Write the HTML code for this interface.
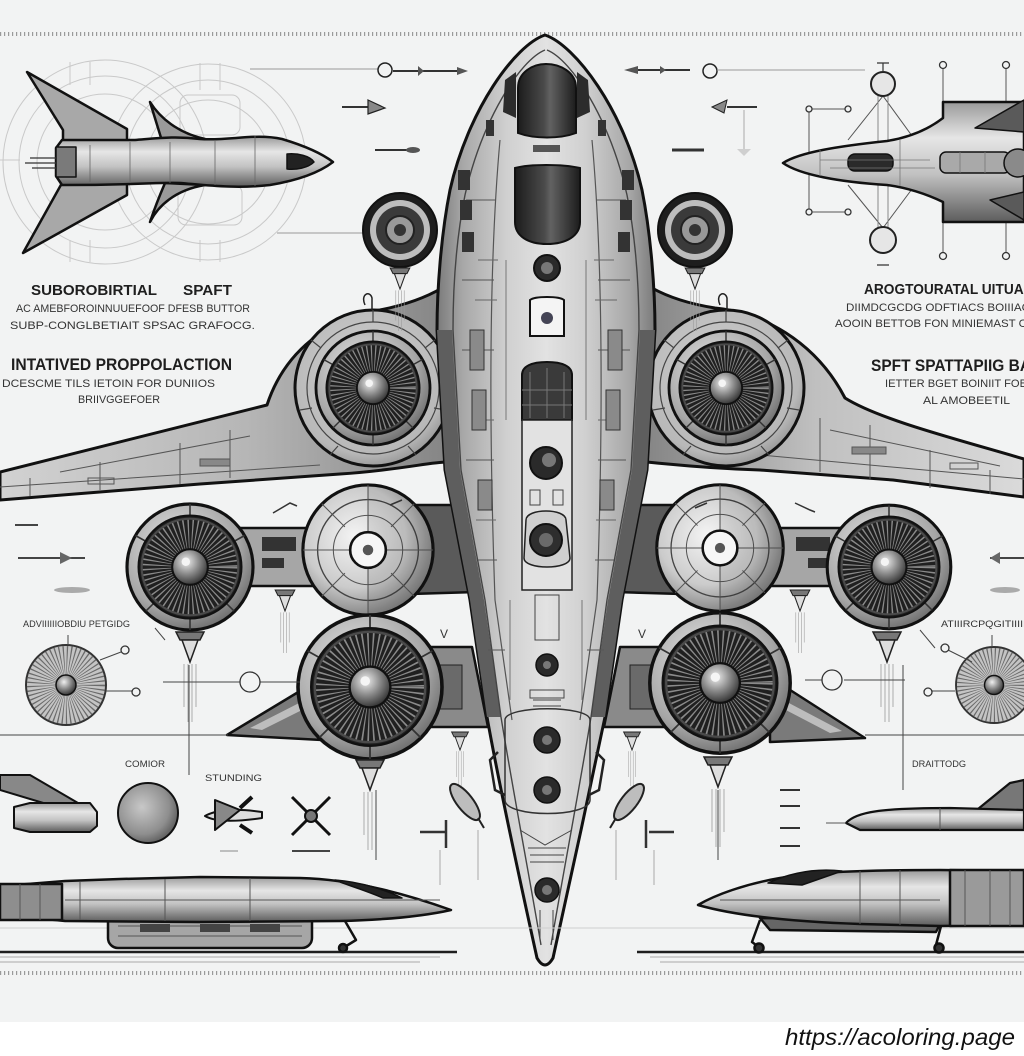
<!DOCTYPE html>
<html><head><meta charset="utf-8">
<style>
html,body{margin:0;padding:0;background:#ffffff;}
svg{display:block}
</style></head><body>
<svg width="1024" height="1056" viewBox="0 0 1024 1056" xmlns="http://www.w3.org/2000/svg" xmlns:xlink="http://www.w3.org/1999/xlink" font-family="'Liberation Sans', sans-serif">
<defs>
 <linearGradient id="gHull" x1="0" y1="0" x2="1" y2="0">
  <stop offset="0" stop-color="#7a7a7a"/>
  <stop offset="0.12" stop-color="#a8a8a8"/>
  <stop offset="0.32" stop-color="#d0d0d0"/>
  <stop offset="0.5" stop-color="#e2e2e2"/>
  <stop offset="0.68" stop-color="#d0d0d0"/>
  <stop offset="0.88" stop-color="#a8a8a8"/>
  <stop offset="1" stop-color="#7a7a7a"/>
 </linearGradient>
 <linearGradient id="gWingL" x1="0" y1="0" x2="1" y2="0">
  <stop offset="0" stop-color="#d2d2d2"/>
  <stop offset="0.55" stop-color="#b6b6b6"/>
  <stop offset="1" stop-color="#858585"/>
 </linearGradient>
 <linearGradient id="gWingR" x1="1" y1="0" x2="0" y2="0">
  <stop offset="0" stop-color="#dadada"/>
  <stop offset="0.55" stop-color="#c0c0c0"/>
  <stop offset="1" stop-color="#858585"/>
 </linearGradient>
 <radialGradient id="gRing" cx="0.4" cy="0.35" r="0.7">
  <stop offset="0" stop-color="#e6e6e6"/>
  <stop offset="0.7" stop-color="#a6a6a6"/>
  <stop offset="1" stop-color="#686868"/>
 </radialGradient>
 <radialGradient id="gHouse" cx="0.45" cy="0.4" r="0.65">
  <stop offset="0" stop-color="#cfcfcf"/>
  <stop offset="0.8" stop-color="#b8b8b8"/>
  <stop offset="1" stop-color="#8c8c8c"/>
 </radialGradient>
 <radialGradient id="gDome" cx="0.4" cy="0.4" r="0.65">
  <stop offset="0" stop-color="#f4f4f4"/>
  <stop offset="0.6" stop-color="#cbcbcb"/>
  <stop offset="1" stop-color="#7a7a7a"/>
 </radialGradient>
 <radialGradient id="gHub" cx="0.4" cy="0.35" r="0.7">
  <stop offset="0" stop-color="#f0f0f0"/>
  <stop offset="0.5" stop-color="#8a8a8a"/>
  <stop offset="1" stop-color="#2a2a2a"/>
 </radialGradient>
 <radialGradient id="gPlanet" cx="0.4" cy="0.4" r="0.65">
  <stop offset="0" stop-color="#c8c8c8"/>
  <stop offset="0.7" stop-color="#8e8e8e"/>
  <stop offset="1" stop-color="#5a5a5a"/>
 </radialGradient>
 <linearGradient id="gGlass" x1="0" y1="0" x2="1" y2="0">
  <stop offset="0" stop-color="#1c1c1c"/>
  <stop offset="0.45" stop-color="#4a4a4a"/>
  <stop offset="0.55" stop-color="#626262"/>
  <stop offset="1" stop-color="#1c1c1c"/>
 </linearGradient>
 <linearGradient id="gMetalV" x1="0" y1="0" x2="0" y2="1">
  <stop offset="0" stop-color="#9a9a9a"/>
  <stop offset="0.3" stop-color="#e6e6e6"/>
  <stop offset="0.6" stop-color="#c2c2c2"/>
  <stop offset="1" stop-color="#5c5c5c"/>
 </linearGradient>
 <g id="fan">
  <circle r="60" fill="url(#gRing)" stroke="#111" stroke-width="3"/>
  <path d="M0,-60 V-50 M52,-30 L43,-25 M-52,-30 L-43,-25 M42,42 L35,35 M-42,42 L-35,35 M0,60 V50" stroke="#333" stroke-width="1.5"/>
  <circle r="49" fill="#202020" stroke="#111" stroke-width="2"/>
  <circle r="30" fill="none" stroke="#8a8a8a" stroke-width="32" stroke-dasharray="1 2.4"/>
  <circle r="46" fill="none" stroke="#4a4a4a" stroke-width="2"/>
  <circle r="17" fill="url(#gHub)" stroke="#111" stroke-width="2"/>
  <circle cx="-4" cy="-5" r="4" fill="#f5f5f5"/>
 </g>
 <g id="dome">
  <circle r="62" fill="url(#gDome)" stroke="#111" stroke-width="3"/>
  <circle r="48" fill="none" stroke="#444" stroke-width="1.3"/>
  <circle r="33" fill="none" stroke="#555" stroke-width="1"/>
  <path d="M-62,0 H62 M0,-62 V62 M-44,-44 L-22,-22 M44,-44 L22,-22 M-44,44 L-22,22 M44,44 L22,22" stroke="#555" stroke-width="1"/>
  <path d="M0,-62 A62,62 0 0 1 0,62 Z" fill="#000" opacity="0.08"/>
  <circle r="17" fill="#f6f6f6" stroke="#111" stroke-width="2.5"/>
  <circle r="5" fill="#555"/>
 </g>
 <g id="noz">
  <path d="M-14,0 H14 L10,8 H-10 Z" fill="#777" stroke="#222" stroke-width="1.5"/>
  <path d="M-8,8 L8,8 L0,30 Z" fill="#dddddd" stroke="#222" stroke-width="1.5"/>
  <path d="M-6,32 V75 M-2,32 V90 M2,32 V90 M6,32 V75" stroke="#9a9a9a" stroke-width="0.8"/>
 </g>
 <g id="sfan">
  <circle r="40" fill="#c4c4c4" stroke="#333" stroke-width="2"/>
  <circle r="22" fill="none" stroke="#6a6a6a" stroke-width="34" stroke-dasharray="0.8 1.8"/>
  <circle r="10" fill="url(#gHub)" stroke="#111" stroke-width="1.5"/>
 </g>
</defs>

<!-- background -->
<rect x="0" y="0" width="1024" height="1024" fill="#f2f3f3"/>
<rect x="0" y="1022" width="1024" height="34" fill="#ffffff"/>

<!-- dotted rules -->
<line x1="0" y1="34" x2="1024" y2="34" stroke="#9a9a9a" stroke-width="4" stroke-dasharray="1.2 2.8"/>
<line x1="0" y1="973" x2="1024" y2="973" stroke="#9a9a9a" stroke-width="4" stroke-dasharray="1.2 2.8"/>

<!-- blueprint circles top-left -->
<g fill="none" stroke="#c9c9c9" stroke-width="1">
 <circle cx="105" cy="162" r="102"/>
 <circle cx="105" cy="162" r="86"/>
 <circle cx="105" cy="162" r="68"/>
 <circle cx="208" cy="162" r="98"/>
 <circle cx="208" cy="162" r="82"/>
 <circle cx="208" cy="162" r="62"/>
 <rect x="180" y="95" width="60" height="40" rx="8"/>
 <rect x="178" y="185" width="64" height="40" rx="8"/>
 <path d="M70,62 V85 M90,62 V85 M200,63 V90 M220,63 V90 M200,240 V262 M220,240 V262 M70,240 V262 M90,240 V262"/>
 <line x1="0" y1="160" x2="20" y2="160"/>
</g>
<line x1="250" y1="69" x2="378" y2="69" stroke="#999" stroke-width="1"/>
<line x1="277" y1="233" x2="363" y2="233" stroke="#999" stroke-width="1"/>

<!-- top-left ship -->
<g stroke="#111" stroke-width="2.5" stroke-linejoin="round">
 <path d="M27,72 L127,129 L127,142 L63,142 L63,130 Z" fill="#a8a8a8"/>
 <path d="M23,253 L62,183 L127,183 L127,195 Z" fill="#a8a8a8"/>
 <path d="M150,102 C160,118 178,133 205,139 L162,141 C158,128 154,115 150,102 Z" fill="#9a9a9a"/>
 <path d="M150,222 C158,206 175,190 205,185 L165,183 C159,197 154,210 150,222 Z" fill="#9a9a9a"/>
 <path d="M56,148 L62,140 L135,140 C160,138 175,136 200,139 C230,141 255,133 282,139 C302,145 320,152 333,162 C320,172 300,180 270,185 C235,189 205,185 180,183 C160,182 140,185 62,185 L56,176 Z" fill="url(#gMetalV)"/>
 <rect x="56" y="147" width="20" height="30" fill="#7a7a7a" stroke-width="1.5"/>
 <path d="M287,154 C298,153 310,156 314,162 C308,168 296,170 287,169 Z" fill="#222" stroke-width="1.5"/>
</g>
<path d="M30,158 H56 M25,163 H56 M32,168 H56" stroke="#333" stroke-width="1.2"/>
<path d="M90,145 V182 M130,142 V183 M170,142 V183 M215,140 V185 M255,136 V186" stroke="#666" stroke-width="0.8" fill="none"/>

<!-- top arrows -->
<circle cx="385" cy="70" r="7" fill="#f2f3f3" stroke="#222" stroke-width="1.5"/>
<path d="M393,71 H462" stroke="#333" stroke-width="2"/>
<path d="M457,67 L468,71 L457,75 Z M418,66 L424,71 L418,76 Z" fill="#555"/>
<path d="M342,107 H370" stroke="#333" stroke-width="2"/>
<path d="M368,100 L385,108 L368,114 Z" fill="#888" stroke="#222" stroke-width="1.2"/>
<path d="M375,150 H418" stroke="#333" stroke-width="2"/>
<ellipse cx="413" cy="150" rx="7" ry="3" fill="#555"/>
<path d="M632,70 H690" stroke="#333" stroke-width="2"/>
<path d="M624,70 L638,66 L638,74 Z M660,66 L666,70 L660,74 Z" fill="#555"/>
<circle cx="710" cy="71" r="7" fill="#f2f3f3" stroke="#222" stroke-width="1.5"/>
<line x1="717" y1="70" x2="865" y2="70" stroke="#999" stroke-width="1"/>
<path d="M712,107 L727,100 L724,113 Z" fill="#888" stroke="#222" stroke-width="1"/>
<path d="M727,107 H757" stroke="#333" stroke-width="2"/>
<line x1="744" y1="110" x2="744" y2="150" stroke="#aaa" stroke-width="1"/>
<path d="M737,149 L751,149 L744,156 Z" fill="#cfcfcf"/>
<path d="M672,150 H704" stroke="#333" stroke-width="3"/>

<!-- top-right ship + annotations -->
<g fill="none" stroke="#555" stroke-width="1">
 <path d="M809,109 V212 M809,109 H848 M809,212 H848"/>
 <path d="M943,66 V102 M1006,66 V102 M943,222 V255 M1006,222 V255"/>
 <path d="M883,96 L848,140 M883,96 L915,140 M883,228 L848,185 M883,228 L915,185"/>
 <path d="M878,96 V228 M888,96 V228" stroke="#888"/>
</g>
<g fill="#f2f3f3" stroke="#333" stroke-width="1.3">
 <circle cx="809" cy="109" r="3"/><circle cx="848" cy="109" r="3"/>
 <circle cx="809" cy="212" r="3"/><circle cx="848" cy="212" r="3"/>
 <circle cx="943" cy="65" r="3.5"/><circle cx="1006" cy="65" r="3.5"/>
 <circle cx="943" cy="256" r="3.5"/><circle cx="1006" cy="256" r="3.5"/>
</g>
<circle cx="883" cy="84" r="12" fill="#e6e6e6" stroke="#222" stroke-width="2"/>
<circle cx="883" cy="240" r="13" fill="#e6e6e6" stroke="#222" stroke-width="2"/>
<path d="M877,63 H889 M883,63 V72 M877,265 H889" stroke="#333" stroke-width="1.2"/>
<g stroke="#111" stroke-width="2.5" stroke-linejoin="round">
 <path d="M783,163 C800,152 840,146 887,141 C912,137 930,128 943,118 L943,102 L1024,102 L1024,222 L943,222 L943,202 C922,192 902,187 887,185 C840,182 800,175 783,163 Z" fill="url(#gMetalV)"/>
 <path d="M975,128 L1024,100 L1024,132 Z" fill="#5a5a5a" stroke-width="1.5"/>
 <path d="M990,200 L1024,220 L1024,192 Z" fill="#5a5a5a" stroke-width="1.5"/>
 <rect x="848" y="154" width="45" height="17" rx="7" fill="#2a2a2a" stroke-width="1.5"/>
 <rect x="940" y="152" width="70" height="21" rx="6" fill="#a9a9a9" stroke-width="1.5"/>
 <circle cx="1018" cy="163" r="14" fill="#8a8a8a" stroke-width="1.5"/>
</g>
<path d="M820,160 H930 M830,168 H935 M960,152 V173 M985,152 V173 M900,140 V186 M820,150 V176" stroke="#777" stroke-width="0.8" fill="none"/>

<!-- texts -->
<g fill="#1e1e1e" font-weight="bold">
 <text x="31" y="295" font-size="15" textLength="126" lengthAdjust="spacingAndGlyphs">SUBOROBIRTIAL</text>
 <text x="183" y="295" font-size="15" textLength="49" lengthAdjust="spacingAndGlyphs">SPAFT</text>
 <text x="11" y="370" font-size="17" textLength="221" lengthAdjust="spacingAndGlyphs">INTATIVED PROPPOLACTION</text>
 <text x="864" y="294" font-size="15" textLength="168" lengthAdjust="spacingAndGlyphs">AROGTOURATAL UITUAL</text>
 <text x="871" y="371" font-size="17" textLength="160" lengthAdjust="spacingAndGlyphs">SPFT SPATTAPIIG BA</text>
</g>
<g fill="#333" font-size="11">
 <text x="16" y="312" textLength="234" lengthAdjust="spacingAndGlyphs">AC AMEBFOROINNUUEFOOF DFESB BUTTOR</text>
 <text x="10" y="329" textLength="245" lengthAdjust="spacingAndGlyphs">SUBP-CONGLBETIAIT SPSAC GRAFOCG.</text>
 <text x="2" y="387" textLength="213" lengthAdjust="spacingAndGlyphs">DCESCME TILS IETOIN FOR DUNIIOS</text>
 <text x="78" y="403" textLength="82" lengthAdjust="spacingAndGlyphs">BRIIVGGEFOER</text>
 <text x="846" y="311" textLength="184" lengthAdjust="spacingAndGlyphs">DIIMDCGCDG ODFTIACS BOIIIAC</text>
 <text x="835" y="327" textLength="192" lengthAdjust="spacingAndGlyphs">AOOIN BETTOB FON MINIEMAST C</text>
 <text x="885" y="387" textLength="142" lengthAdjust="spacingAndGlyphs">IETTER BGET BOINIIT FOB</text>
 <text x="923" y="404" textLength="87" lengthAdjust="spacingAndGlyphs">AL AMOBEETIL</text>
</g>
<g fill="#333" font-size="9">
 <text x="23" y="627" textLength="107" lengthAdjust="spacingAndGlyphs">ADVIIIIIIOBDIU PETGIDG</text>
 <text x="941" y="627" textLength="85" lengthAdjust="spacingAndGlyphs">ATIIIRCPQGITIIIII</text>
 <text x="125" y="767" textLength="40" lengthAdjust="spacingAndGlyphs">COMIOR</text>
 <text x="205" y="781" textLength="57" lengthAdjust="spacingAndGlyphs">STUNDING</text>
 <text x="912" y="767" textLength="54" lengthAdjust="spacingAndGlyphs">DRAITTODG</text>
</g>

<!-- wings -->
<g stroke="#111" stroke-width="3" stroke-linejoin="round">
 <path d="M0,472 L267,405 C285,350 330,318 380,310 C405,305 425,298 442,288 L445,330 L447,462 C430,462 400,470 340,474 L200,484 L0,500 Z" fill="url(#gWingL)"/>
 <path d="M1024,459 C960,440 880,420 845,398 C815,340 760,312 715,308 C690,304 670,298 652,288 L648,330 L646,462 C670,464 700,468 760,470 L893,480 L1024,497 Z" fill="url(#gWingR)"/>
</g>
<g stroke="#555" stroke-width="1" fill="none">
 <path d="M0,487 L320,465 M30,478 V496 M100,462 V490 M180,443 V484 M230,430 V478 M60,472 L250,436"/>
 <path d="M1024,479 L760,455 M990,470 V494 M930,450 V488 M870,425 V480 M820,418 V472 M1000,466 L830,430"/>
 <rect x="88" y="478" width="26" height="6"/>
 <rect x="200" y="459" width="30" height="7" fill="#888"/>
 <rect x="852" y="447" width="34" height="7" fill="#888"/>
 <rect x="950" y="463" width="28" height="6"/>
</g>

<!-- big engine housings -->
<circle cx="373" cy="388" r="78" fill="url(#gHouse)" stroke="#111" stroke-width="3"/>
<circle cx="726" cy="388" r="78" fill="url(#gHouse)" stroke="#111" stroke-width="3"/>
<g stroke="#444" stroke-width="1.2" fill="none">
 <circle cx="373" cy="388" r="66"/>
 <circle cx="726" cy="388" r="66"/>
 <path d="M373,310 V322 M311,340 L321,348 M435,340 L425,348 M300,410 L312,408 M446,410 L434,408 M330,455 L338,446 M416,455 L408,446"/>
 <path d="M726,310 V322 M664,340 L674,348 M788,340 L778,348 M653,410 L665,408 M799,410 L787,408 M683,455 L691,446 M769,455 L761,446"/>
</g>

<!-- bars -->
<g stroke="#111" stroke-width="2.5" stroke-linejoin="round">
 <rect x="235" y="528" width="90" height="58" fill="#a6a6a6"/>
 <rect x="767" y="528" width="90" height="58" fill="#a6a6a6"/>
 <path d="M410,505 L462,505 L476,592 L410,594 Z" fill="#5a5a5a"/>
 <path d="M682,505 L630,505 L616,592 L682,594 Z" fill="#5a5a5a"/>
 <path d="M420,647 L472,647 L488,727 L420,727 Z" fill="#8a8a8a"/>
 <path d="M672,647 L620,647 L604,727 L672,727 Z" fill="#8a8a8a"/>
 <path d="M227,735 L305,688 L322,700 L322,740 Z" fill="#7a7a7a"/>
 <path d="M865,738 L787,688 L770,700 L770,742 Z" fill="#7a7a7a"/>
</g>
<g fill="#333">
 <rect x="262" y="537" width="34" height="14"/>
 <rect x="262" y="558" width="22" height="10"/>
 <rect x="796" y="537" width="34" height="14"/>
 <rect x="808" y="558" width="22" height="10"/>
 <rect x="432" y="665" width="30" height="44" fill="#6a6a6a" stroke="#222" stroke-width="1"/>
 <rect x="630" y="665" width="30" height="44" fill="#6a6a6a" stroke="#222" stroke-width="1"/>
 <path d="M250,728 L305,700 L310,706 L262,730 Z" fill="#bdbdbd"/>
 <path d="M842,731 L787,702 L782,708 L830,733 Z" fill="#bdbdbd"/>
</g>

<!-- hull -->
<path d="M545,35 C515,45 468,110 450,190 C441,235 437,290 437,330 L445,470 L470,600 L487,717 C500,790 522,890 537,958 Q545,972 553,958 C568,890 590,790 605,717 L622,600 L647,470 L655,330 C655,290 651,235 642,190 C624,110 575,45 545,35 Z" fill="url(#gHull)" stroke="#111" stroke-width="3" stroke-linejoin="round"/>
<path d="M437,330 L445,470 L470,600 L487,717 L501,717 L484,600 L460,470 L452,330 Z" fill="#5e5e5e"/>
<path d="M655,330 L647,470 L622,600 L605,717 L591,717 L608,600 L632,470 L640,330 Z" fill="#5e5e5e"/>
<g fill="none" stroke="#444" stroke-width="1.4">
 <path d="M545,50 C520,60 482,120 465,195 C456,240 453,290 453,330 L461,470 L485,600 L501,717 C512,785 530,880 541,945"/>
 <path d="M547,50 C572,60 610,120 627,195 C636,240 639,290 639,330 L631,470 L607,600 L591,717 C580,785 562,880 551,945"/>
 <path d="M500,140 C490,250 488,400 495,600 L512,720 M592,140 C602,250 604,400 597,600 L580,720" stroke="#555" stroke-width="1.2"/>
 <path d="M478,260 H498 M475,300 H497 M474,420 H494 M476,520 H496 M594,260 H614 M595,300 H617 M598,420 H618 M596,520 H616" stroke="#666" stroke-width="1"/>
 <path d="M466,200 H496 M462,280 H494 M462,350 H494 M466,460 H494 M478,560 H497 M488,650 H505 M596,200 H626 M598,280 H630 M598,350 H630 M598,460 H626 M595,560 H614 M587,650 H604" stroke="#555" stroke-width="1"/>
 <path d="M506,260 V420 M586,260 V420 M510,600 V700 M582,600 V700" stroke="#777" stroke-width="1"/>
</g>
<g fill="#8a8a8a" stroke="#333" stroke-width="1">
 <rect x="470" y="330" width="14" height="40"/><rect x="472" y="390" width="14" height="40"/><rect x="478" y="480" width="14" height="30"/>
 <rect x="608" y="330" width="14" height="40"/><rect x="606" y="390" width="14" height="40"/><rect x="600" y="480" width="14" height="30"/>
</g>
<!-- cockpit windows -->
<path d="M518,133 L518,88 C518,72 533,64 546,64 C560,64 576,72 576,88 L576,133 C560,139 534,139 518,133 Z" fill="url(#gGlass)" stroke="#111" stroke-width="2"/>
<path d="M505,80 L516,72 L516,118 L503,112 Z M588,80 L577,72 L577,118 L590,112 Z" fill="#2c2c2c"/>
<path d="M533,145 H560 V152 H533 Z" fill="#555"/>
<path d="M515,168 C530,164 562,164 580,168 L580,222 C580,236 566,244 547,244 C528,244 515,236 515,222 Z" fill="url(#gGlass)" stroke="#111" stroke-width="2"/>
<circle cx="547" cy="268" r="13" fill="#2a2a2a" stroke="#111" stroke-width="2"/>
<circle cx="547" cy="268" r="6" fill="#777"/>
<path d="M530,300 C535,296 559,296 564,300 L564,336 L530,336 Z" fill="#f4f4f4" stroke="#111" stroke-width="2"/>
<circle cx="547" cy="318" r="6" fill="#445"/>
<g fill="#333">
 <rect x="458" y="170" width="12" height="20"/><rect x="460" y="200" width="12" height="20"/><rect x="462" y="232" width="12" height="20"/>
 <rect x="622" y="170" width="12" height="20"/><rect x="620" y="200" width="12" height="20"/><rect x="618" y="232" width="12" height="20"/>
 <rect x="486" y="120" width="8" height="16"/><rect x="598" y="120" width="8" height="16"/>
</g>
<!-- spine -->
<path d="M522,420 L522,375 C522,366 532,362 547,362 C562,362 572,366 572,375 L572,420 Z" fill="#3a3a3a" stroke="#111" stroke-width="2"/>
<path d="M530,372 V418 M547,368 V418 M564,372 V418 M522,390 H572 M522,405 H572" stroke="#777" stroke-width="1"/>
<rect x="522" y="420" width="50" height="170" fill="#e2e2e2" stroke="#222" stroke-width="1.5"/>
<circle cx="546" cy="463" r="16" fill="#2a2a2a" stroke="#111" stroke-width="2"/>
<circle cx="549" cy="460" r="7" fill="#777"/>
<path d="M526,520 C526,508 566,508 566,520 L570,558 C570,570 524,570 524,558 Z" fill="#cfcfcf" stroke="#222" stroke-width="1.5"/>
<circle cx="546" cy="540" r="16" fill="#2e2e2e" stroke="#111" stroke-width="2"/>
<circle cx="546" cy="540" r="7" fill="#6a6a6a"/>
<path d="M530,490 H540 V505 H530 Z M553,490 H563 V505 H553 Z M535,595 H559 V640 H535 Z" fill="none" stroke="#444" stroke-width="1"/>
<path d="M505,720 C505,705 590,705 590,720 L590,800 C590,818 505,818 505,800 Z" fill="none" stroke="#333" stroke-width="1.5"/>
<g fill="#2a2a2a" stroke="#111" stroke-width="1.5">
 <circle cx="547" cy="665" r="11"/>
 <circle cx="547" cy="740" r="13"/>
 <circle cx="547" cy="790" r="13"/>
 <circle cx="547" cy="890" r="12"/>
</g>
<g fill="#777"><circle cx="547" cy="665" r="4"/><circle cx="547" cy="740" r="5"/><circle cx="547" cy="790" r="5"/><circle cx="547" cy="890" r="5"/></g>
<path d="M530,690 H564 V698 H530 Z M533,700 H561 M533,706 H561 M528,848 H566 M530,855 H564 M530,862 H564 M540,910 V940 M553,910 V940 M520,830 L545,845 L572,830" stroke="#444" stroke-width="1" fill="none"/>
<path d="M498,752 L490,760 L495,790 L505,795 M596,752 L604,760 L599,790 L589,795" stroke="#222" stroke-width="2.5" fill="none"/>

<!-- engines -->
<use xlink:href="#fan" transform="translate(373,388) scale(0.95)"/>
<use xlink:href="#fan" transform="translate(726,388) scale(0.95)"/>
<use xlink:href="#fan" transform="translate(190,567) scale(1.05)"/>
<use xlink:href="#dome" transform="translate(368,550) scale(1.05)"/>
<use xlink:href="#dome" transform="translate(720,548) scale(1.02)"/>
<use xlink:href="#fan" transform="translate(889,567) scale(1.03)"/>
<use xlink:href="#fan" transform="translate(370,687) scale(1.2)"/>
<use xlink:href="#fan" transform="translate(720,683) scale(1.17)"/>
<g>
 <circle cx="400" cy="230" r="37" fill="#1e1e1e" stroke="#111" stroke-width="2"/>
 <circle cx="400" cy="230" r="30" fill="#bdbdbd"/>
 <circle cx="400" cy="230" r="24" fill="#3a3a3a"/>
 <circle cx="400" cy="230" r="14" fill="#999" stroke="#222" stroke-width="2"/>
 <circle cx="400" cy="230" r="6" fill="#333"/>
 <circle cx="695" cy="230" r="37" fill="#1e1e1e" stroke="#111" stroke-width="2"/>
 <circle cx="695" cy="230" r="30" fill="#bdbdbd"/>
 <circle cx="695" cy="230" r="24" fill="#3a3a3a"/>
 <circle cx="695" cy="230" r="14" fill="#999" stroke="#222" stroke-width="2"/>
 <circle cx="695" cy="230" r="6" fill="#333"/>
</g>
<!-- nozzles -->
<use xlink:href="#noz" transform="translate(400,268) scale(0.7)"/>
<use xlink:href="#noz" transform="translate(695,268) scale(0.7)"/>
<use xlink:href="#noz" transform="translate(190,632)"/>
<use xlink:href="#noz" transform="translate(887,632)"/>
<use xlink:href="#noz" transform="translate(370,760)"/>
<use xlink:href="#noz" transform="translate(718,757)"/>
<use xlink:href="#noz" transform="translate(285,590) scale(0.7)"/>
<use xlink:href="#noz" transform="translate(800,590) scale(0.7)"/>
<use xlink:href="#noz" transform="translate(460,732) scale(0.6)"/>
<use xlink:href="#noz" transform="translate(632,732) scale(0.6)"/>
<path d="M365,305 C360,294 370,290 372,298 L372,310 M720,305 C715,294 725,290 727,298 L727,310" stroke="#222" stroke-width="1.5" fill="none"/>
<path d="M390,505 L402,500 M695,508 L707,503" stroke="#333" stroke-width="1.5"/>

<!-- side fans + annotations -->
<use xlink:href="#sfan" transform="translate(66,685)"/>
<use xlink:href="#sfan" transform="translate(994,685) scale(0.95)"/>
<g stroke="#444" stroke-width="1" fill="none">
 <path d="M68,635 V645 M100,660 L121,652 M106,691 L132,691"/>
 <path d="M163,682 H240 M260,682 H300"/>
 <path d="M0,735 H228 M865,735 H1024"/>
 <path d="M189,665 V775 M376,790 V860"/>
 <path d="M844,680 H905 M805,680 H822 M948,650 L972,662 M932,691 H955 M992,635 V647"/>
 <path d="M903,665 V790 M718,790 V860"/>
 <path d="M155,628 L165,640 M920,630 L935,648"/>
</g>
<g fill="#f2f3f3" stroke="#333" stroke-width="1.3">
 <circle cx="125" cy="650" r="4"/><circle cx="136" cy="692" r="4"/>
 <circle cx="945" cy="648" r="4"/><circle cx="928" cy="692" r="4"/>
 <circle cx="250" cy="682" r="10"/><circle cx="832" cy="680" r="10"/>
</g>
<!-- left-side small arrows -->
<path d="M15,525 H38 M18,558 H85 M990,558 H1024" stroke="#444" stroke-width="2"/>
<path d="M60,552 L72,558 L60,564 Z M1000,552 L990,558 L1000,564 Z" fill="#666"/>
<ellipse cx="72" cy="590" rx="18" ry="3" fill="#aaa"/>
<ellipse cx="1005" cy="590" rx="15" ry="3" fill="#aaa"/>
<path d="M273,513 L290,503 L297,506" stroke="#333" stroke-width="1.5" fill="none"/>
<path d="M795,503 L810,510 L815,512" stroke="#333" stroke-width="1.5" fill="none"/>
<text x="440" y="638" font-size="12" fill="#333">V</text>
<text x="638" y="638" font-size="12" fill="#333">V</text>

<!-- missiles near hull bottom -->
<g stroke="#222" stroke-width="2">
 <ellipse cx="465" cy="802" rx="22" ry="8" transform="rotate(52 465 802)" fill="#bdbdbd"/>
 <ellipse cx="629" cy="802" rx="22" ry="8" transform="rotate(-52 629 802)" fill="#bdbdbd"/>
 <path d="M478,818 L484,828 M616,818 L610,828" />
</g>
<path d="M420,832 H445 M446,820 V848 M649,832 H674 M646,820 V848" stroke="#333" stroke-width="2.5"/>
<path d="M478,830 V880 M616,830 V880 M440,850 V885 M654,850 V885" stroke="#aaa" stroke-width="1"/>
<path d="M780,790 H800 M780,806 H800 M780,828 H800 M780,846 H800" stroke="#333" stroke-width="2"/>

<!-- bottom small items -->
<g stroke="#111" stroke-width="2" stroke-linejoin="round">
 <path d="M0,775 L30,775 L78,803 L50,805 L0,790 Z" fill="#888"/>
 <path d="M14,807 L30,803 L90,803 L97,812 L97,826 L90,832 L30,832 L14,828 Z" fill="url(#gMetalV)"/>
 <circle cx="148" cy="813" r="30" fill="url(#gPlanet)"/>
 <path d="M205,816 C215,810 235,808 262,812 L262,818 C235,822 215,822 205,816 Z" fill="#ddd"/>
 <path d="M215,800 L240,810 L215,830 Z" fill="#888"/>
 <path d="M240,808 L252,797 M240,825 L252,833" stroke-width="4"/>
 <path d="M292,797 L330,835 M330,797 L292,835" stroke-width="3"/>
 <circle cx="311" cy="816" r="6" fill="#777"/>
</g>
<path d="M292,851 H330" stroke="#444" stroke-width="2"/>
<path d="M220,851 H238" stroke="#888" stroke-width="1"/>
<!-- top-right small ship in lower area -->
<g stroke="#111" stroke-width="2.2" stroke-linejoin="round">
 <path d="M978,809 L1010,783 L1024,780 L1024,812 Z" fill="#777"/>
 <path d="M846,823 C856,812 880,808 950,808 L1024,810 L1024,830 L860,830 Z" fill="url(#gMetalV)"/>
</g>
<path d="M826,823 H846 M940,808 V830" stroke="#555" stroke-width="1"/>

<!-- ground -->
<path d="M0,952 H457 M637,952 H1024" stroke="#1e1e1e" stroke-width="2.5"/>
<path d="M0,957 H440 M650,957 H1024 M0,962 H420 M660,962 H1024" stroke="#aaa" stroke-width="1"/>
<path d="M0,928 H1024" stroke="#cfcfcf" stroke-width="1"/>

<!-- bottom-left ship -->
<g stroke="#111" stroke-width="2.5" stroke-linejoin="round">
 <rect x="108" y="912" width="204" height="36" rx="10" fill="#a6a6a6"/>
 <path d="M0,893 L15,885 L65,881 L120,879 L200,877 L300,878 C345,879 395,890 451,910 C420,917 380,920 340,921 L200,922 L65,921 L15,916 L0,912 Z" fill="url(#gMetalV)"/>
 <path d="M0,884 L62,884 L62,920 L0,920 Z" fill="#8e8e8e"/>
 <path d="M335,880 C362,882 388,891 402,898 L383,898 C367,891 350,886 335,880 Z" fill="#222" stroke-width="1.5"/>
 <path d="M345,921 L356,940 L343,948" fill="none"/>
 <circle cx="343" cy="948" r="4" fill="#333"/>
</g>
<path d="M20,884 V920 M40,884 V920 M80,882 V920 M165,879 V921 M250,878 V921 M118,926 H302 M118,936 H302 M65,900 H440" stroke="#555" stroke-width="1" fill="none"/>
<path d="M140,924 H170 V932 H140 Z M200,924 H230 V932 H200 Z M250,924 H280 V932 H250 Z" fill="#444"/>

<!-- bottom-right ship -->
<g stroke="#111" stroke-width="2.5" stroke-linejoin="round">
 <path d="M760,918 L942,920 L936,932 L770,930 Z" fill="#666"/>
 <path d="M698,905 C715,895 745,884 780,878 C815,872 860,870 940,870 L1024,871 L1024,925 L940,926 L860,924 C800,922 740,917 698,905 Z" fill="url(#gMetalV)"/>
 <path d="M768,883 C790,873 815,868 842,871 L802,885 Z" fill="#222" stroke-width="1.5"/>
 <rect x="950" y="870" width="74" height="56" fill="#9a9a9a"/>
 <path d="M760,920 L752,942 L760,948 M941,926 L936,945" fill="none"/>
 <circle cx="759" cy="948" r="4.5" fill="#333"/>
 <circle cx="939" cy="948" r="4.5" fill="#333"/>
</g>
<path d="M965,870 V926 M990,870 V926 M1010,870 V926 M720,900 H940 M860,871 V924 M900,870 V925" stroke="#555" stroke-width="1" fill="none"/>

<!-- watermark -->
<text x="785" y="1045" font-size="23" font-style="italic" fill="#111" textLength="230" lengthAdjust="spacingAndGlyphs">https://acoloring.page</text>
</svg>
</body></html>
